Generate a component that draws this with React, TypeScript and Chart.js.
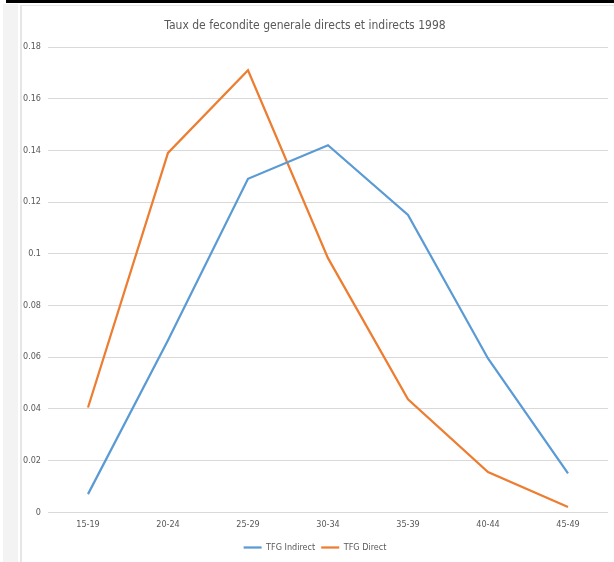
import React, { useEffect, useRef } from "react";
import { Chart, registerables } from "chart.js";

Chart.register(...registerables);

const categories = ["15-19", "20-24", "25-29", "30-34", "35-39", "40-44", "45-49"];
const tfgIndirect = [0.007, 0.0665, 0.129, 0.142, 0.115, 0.0595, 0.015];
const tfgDirect = [0.0405, 0.139, 0.171, 0.0983, 0.0437, 0.0155, 0.002];
const yTicks = [0, 0.02, 0.04, 0.06, 0.08, 0.1, 0.12, 0.14, 0.16, 0.18];
const titleText = "Taux de fecondite generale directs et indirects 1998";

const FONT = "'Liberation Sans Narrow', 'DejaVu Sans Condensed', sans-serif";

export default function App() {
  const ref = useRef<HTMLCanvasElement | null>(null);

  useEffect(() => {
    if (!ref.current) return;
    const chart = new Chart(ref.current, {
      type: "line",
      data: {
        labels: categories,
        datasets: [
          {
            label: "TFG Indirect",
            data: tfgIndirect,
            borderColor: "#5b9bd5",
            backgroundColor: "#5b9bd5",
            borderWidth: 2.25,
            pointRadius: 0,
            tension: 0,
          },
          {
            label: "TFG Direct",
            data: tfgDirect,
            borderColor: "#ed7d31",
            backgroundColor: "#ed7d31",
            borderWidth: 2.25,
            pointRadius: 0,
            tension: 0,
          },
        ],
      },
      options: {
        animation: false,
        responsive: false,
        maintainAspectRatio: false,
        layout: { padding: { left: 0, right: 6, top: 40, bottom: 0 } },
        plugins: {
          title: { display: false },
          legend: {
            position: "bottom",
            labels: {
              color: "#595959",
              font: { family: FONT, size: 9 },
              usePointStyle: true,
              pointStyle: "line",
              pointStyleWidth: 18,
              boxHeight: 8,
              padding: 6,
            },
          },
          tooltip: { enabled: false },
        },
        scales: {
          x: {
            offset: true,
            grid: { display: false, drawTicks: false },
            border: { display: false },
            ticks: {
              color: "#595959",
              font: { family: FONT, size: 9 },
              padding: 7,
              maxRotation: 0,
            },
          },
          y: {
            min: 0,
            max: 0.18,
            afterFit: (s: any) => {
              s.width = 26;
            },
            afterBuildTicks: (s: any) => {
              s.ticks = yTicks.map((v) => ({ value: v }));
            },
            grid: { color: "#d9d9d9", lineWidth: 1, drawTicks: false },
            border: { display: false },
            ticks: {
              color: "#595959",
              font: { family: FONT, size: 9 },
              padding: 7,
              callback: (v: any) => String(Math.round(Number(v) * 100) / 100),
            },
          },
        },
      },
    });
    return () => chart.destroy();
  }, []);

  return (
    <div style={{ position: "fixed", left: 0, top: 0, width: 614, height: 562, background: "#fff", overflow: "hidden" }}>
      <div style={{ position: "absolute", left: 6, top: 0, width: 608, height: 3, background: "#000" }} />
      <div style={{ position: "absolute", left: 3, top: 4, width: 15, height: 558, background: "#f3f3f3" }} />
      <div style={{ position: "absolute", left: 20, top: 5, width: 2, height: 557, background: "#e6e6e6" }} />
      <div style={{ position: "absolute", left: 20, top: 5, width: 594, height: 1, background: "#e6e6e6" }} />
      <div style={{ position: "absolute", left: 22, top: 7 }}>
        <canvas ref={ref} width={592} height={555} style={{ display: "block", width: 592, height: 555 }} />
      </div>
      <div
        style={{
          position: "absolute",
          left: 0,
          top: 17,
          width: 610,
          textAlign: "center",
          fontFamily: FONT,
          fontSize: 12,
          lineHeight: "16px",
          color: "#595959",
          whiteSpace: "nowrap",
        }}
      >
        {titleText}
      </div>
    </div>
  );
}
